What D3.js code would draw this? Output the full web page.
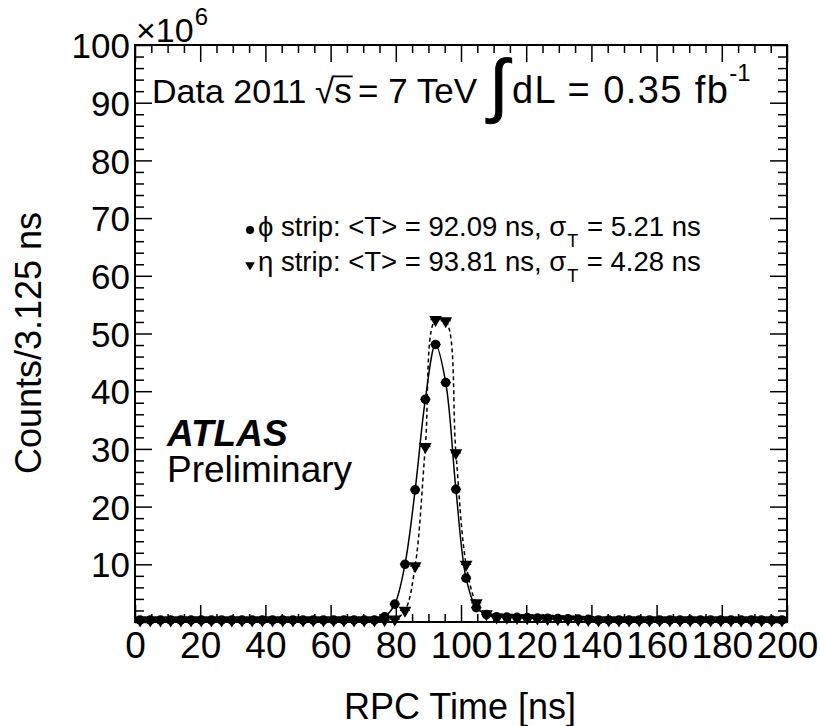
<!DOCTYPE html>
<html>
<head>
<meta charset="utf-8">
<script src="https://cdn.jsdelivr.net/npm/d3@7"></script>
<style>
  body { margin: 0; background: #fff; }
  text { font-family: "Liberation Sans", Arial, Helvetica, sans-serif; fill: #000; white-space: pre; }
</style>
</head>
<body>
<script>
var w = 820;
var h = 726;

// histogram binning (64 bins of 3.125 ns between 0 and 200 ns)
var binWidth = 3.125;
var nBins = 64;

// counts per bin, in units of 10^6, phi strips
var phiCounts = [
  0.35, 0.35, 0.35, 0.35, 0.35, 0.35, 0.35, 0.35, 0.35, 0.35, 0.35, 0.35,
  0.35, 0.35, 0.35, 0.35, 0.35, 0.35, 0.35, 0.35, 0.35, 0.35, 0.35, 0.35,
  0.9, 3.1, 10.0, 22.9, 38.6, 48.1, 41.5, 23.0, 7.6, 2.5, 1.3,
  0.9, 0.85, 0.8, 0.75, 0.7, 0.65, 0.6, 0.55, 0.5, 0.45,
  0.35, 0.35, 0.35, 0.35, 0.35, 0.35, 0.35, 0.35, 0.35, 0.35,
  0.35, 0.35, 0.35, 0.35, 0.35, 0.35, 0.35, 0.35, 0.35
];

// counts per bin, in units of 10^6, eta strips
var etaCounts = [
  0.3, 0.3, 0.3, 0.3, 0.3, 0.3, 0.3, 0.3, 0.3, 0.3, 0.3, 0.3,
  0.3, 0.3, 0.3, 0.3, 0.3, 0.3, 0.3, 0.3, 0.3, 0.3, 0.3, 0.3,
  0.35, 0.5, 2.0, 9.7, 30.4, 52.4, 52.2, 29.3, 10.0, 3.3, 1.4,
  0.85, 0.8, 0.75, 0.7, 0.65, 0.6, 0.55, 0.5, 0.45, 0.4,
  0.3, 0.3, 0.3, 0.3, 0.3, 0.3, 0.3, 0.3, 0.3, 0.3,
  0.3, 0.3, 0.3, 0.3, 0.3, 0.3, 0.3, 0.3, 0.3
];

var xMajor = [0, 20, 40, 60, 80, 100, 120, 140, 160, 180, 200];
var yMajor = [0, 10, 20, 30, 40, 50, 60, 70, 80, 90, 100];
var yLabels = [10, 20, 30, 40, 50, 60, 70, 80, 90, 100];

var padL = 135, padR = 787, padT = 45, padB = 622;

var x = d3.scaleLinear().domain([0, 200]).range([padL, padR]);
var y = d3.scaleLinear().domain([0, 100]).range([padB, padT]);

var svg = d3.select("body").append("svg").attr("width", w).attr("height", h);

var centers = d3.range(nBins).map(function (i) { return (i + 0.5) * binWidth; });
var phiData = centers.map(function (c, i) { return { t: c, v: phiCounts[i] }; });
var etaData = centers.map(function (c, i) { return { t: c, v: etaCounts[i] }; });

var xMinor = d3.range(0, 201, 5).filter(function (d) { return d % 20 != 0; });
var yMinor = d3.range(0, 101, 2).filter(function (d) { return d % 10 != 0; });

// axes, ticks pointing inwards
function styleAxis(g) {
  g.select(".domain").remove();
  g.selectAll(".tick line").attr("stroke", "#000").attr("stroke-width", 1.5);
  g.selectAll(".tick text").attr("fill", "#000")
    .style("font-family", "'Liberation Sans', Arial, sans-serif");
}

var xAxisG = svg.append("g").attr("transform", "translate(0," + padB + ")")
  .call(d3.axisBottom(x).tickValues(xMajor).tickSize(-17).tickPadding(10).tickFormat(d3.format("d")))
  .call(styleAxis);
xAxisG.selectAll(".tick text").style("font-size", "37px").attr("dy", "0.71em");

svg.append("g").attr("transform", "translate(0," + padB + ")")
  .call(d3.axisBottom(x).tickValues(xMinor).tickSize(-8).tickFormat(""))
  .call(styleAxis);
svg.append("g").attr("transform", "translate(0," + padT + ")")
  .call(d3.axisTop(x).tickValues(xMajor).tickSize(-17).tickFormat(""))
  .call(styleAxis);
svg.append("g").attr("transform", "translate(0," + padT + ")")
  .call(d3.axisTop(x).tickValues(xMinor).tickSize(-8).tickFormat(""))
  .call(styleAxis);

var yAxisG = svg.append("g").attr("transform", "translate(" + padL + ",0)")
  .call(d3.axisLeft(y).tickValues(yMajor).tickSize(-17).tickPadding(5)
    .tickFormat(function (d) { return yLabels.indexOf(d) >= 0 ? d : ""; }))
  .call(styleAxis);
yAxisG.selectAll(".tick text").style("font-size", "35px").attr("dy", "0.36em");

svg.append("g").attr("transform", "translate(" + padL + ",0)")
  .call(d3.axisLeft(y).tickValues(yMinor).tickSize(-9).tickFormat(""))
  .call(styleAxis);
svg.append("g").attr("transform", "translate(" + padR + ",0)")
  .call(d3.axisRight(y).tickValues(yMajor).tickSize(-17).tickFormat(""))
  .call(styleAxis);
svg.append("g").attr("transform", "translate(" + padR + ",0)")
  .call(d3.axisRight(y).tickValues(yMinor).tickSize(-9).tickFormat(""))
  .call(styleAxis);

// frame
svg.append("rect")
  .attr("x", padL).attr("y", padT)
  .attr("width", padR - padL).attr("height", padB - padT)
  .attr("fill", "none").attr("stroke", "#000").attr("stroke-width", 2);

// curves
var line = d3.line()
  .x(function (d) { return x(d.t); })
  .y(function (d) { return y(d.v); })
  .curve(d3.curveCatmullRom.alpha(0.5));

svg.append("path").datum(phiData).attr("d", line)
  .attr("fill", "none").attr("stroke", "#000").attr("stroke-width", 1.5);
svg.append("path").datum(etaData).attr("d", line)
  .attr("fill", "none").attr("stroke", "#000").attr("stroke-width", 1.5)
  .attr("stroke-dasharray", "4,3");

// horizontal bin-width bars
function binBars(data) {
  svg.append("g").selectAll("line").data(data).enter().append("line")
    .attr("x1", function (d) { return x(d.t - binWidth / 2); })
    .attr("x2", function (d) { return x(d.t + binWidth / 2); })
    .attr("y1", function (d) { return y(d.v); })
    .attr("y2", function (d) { return y(d.v); })
    .attr("stroke", "#000").attr("stroke-width", 1.2);
}
binBars(phiData);
binBars(etaData);

var tri = d3.symbol().type(d3.symbolTriangle).size(70);

svg.append("g").selectAll("path").data(etaData).enter().append("path")
  .attr("d", tri)
  .attr("transform", function (d) { return "translate(" + x(d.t) + "," + y(d.v) + ") rotate(180)"; })
  .attr("fill", "#000");

svg.append("g").selectAll("circle").data(phiData).enter().append("circle")
  .attr("cx", function (d) { return x(d.t); })
  .attr("cy", function (d) { return y(d.v); })
  .attr("r", 4.8)
  .attr("fill", "#000");

// text placed piece by piece
function richText(x0, y0, pieces) {
  var cx = x0;
  pieces.forEach(function (p) {
    if (p.at != null) cx = p.at;
    var t = svg.append("text")
      .attr("x", cx + (p.dx || 0))
      .attr("y", y0 + (p.dy || 0))
      .style("font-size", p.size + "px")
      .text(p.text);
    if (p.spacing) t.style("letter-spacing", p.spacing + "px");
    if (p.stroke) t.attr("stroke", "#000").attr("stroke-width", p.stroke);
    var wd = t.node().getComputedTextLength();
    if (p.overline) {
      svg.append("line")
        .attr("x1", cx - 1).attr("x2", cx + wd + 1)
        .attr("y1", y0 - p.size * 0.76).attr("y2", y0 - p.size * 0.76)
        .attr("stroke", "#000").attr("stroke-width", 1.8);
    }
    cx += (p.dx || 0) + wd;
  });
}

richText(136, 42, [
  { text: "\u00d710", size: 34 },
  { text: "6", size: 24, dy: -17, dx: 1 }
]);

richText(152, 103, [
  { text: "Data 2011", size: 34 },
  { text: "\u221a", size: 35, at: 315 },
  { text: "s", size: 35, overline: true },
  { text: "= 7 TeV", size: 35, at: 358 },
  { text: "\u222b", size: 70, dy: 6, at: 489, stroke: 0.8 },
  { text: "dL = 0.35 fb", size: 38, at: 512, spacing: 1.4 },
  { text: "-1", size: 24, dy: -22, dx: 0 }
]);

// legend
svg.append("circle").attr("cx", 250).attr("cy", 230).attr("r", 4).attr("fill", "#000");
richText(258, 236, [
  { text: "\u03d5 strip: <T> = 92.09 ns, \u03c3", size: 27.5 },
  { text: "T", size: 18, dy: 11, dx: 1 },
  { text: " = 5.21 ns", size: 27.5, dx: 1 }
]);
svg.append("path").attr("d", d3.symbol().type(d3.symbolTriangle).size(40))
  .attr("transform", "translate(250,265) rotate(180)").attr("fill", "#000");
richText(258, 271, [
  { text: "\u03b7 strip: <T> = 93.81 ns, \u03c3", size: 27.5 },
  { text: "T", size: 18, dy: 11, dx: 1 },
  { text: " = 4.28 ns", size: 27.5, dx: 1 }
]);

// ATLAS label
svg.append("text").attr("x", 167).attr("y", 446)
  .style("font-size", "37px").style("font-weight", "bold").style("font-style", "italic")
  .text("ATLAS");
svg.append("text").attr("x", 167).attr("y", 482)
  .style("font-size", "37px")
  .text("Preliminary");

// axis titles
svg.append("text")
  .attr("transform", "translate(41,343) rotate(-90)")
  .attr("text-anchor", "middle")
  .style("font-size", "36px")
  .text("Counts/3.125 ns");
svg.append("text")
  .attr("x", 460).attr("y", 719)
  .attr("text-anchor", "middle")
  .style("font-size", "36px")
  .text("RPC Time [ns]");
</script>
</body>
</html>
